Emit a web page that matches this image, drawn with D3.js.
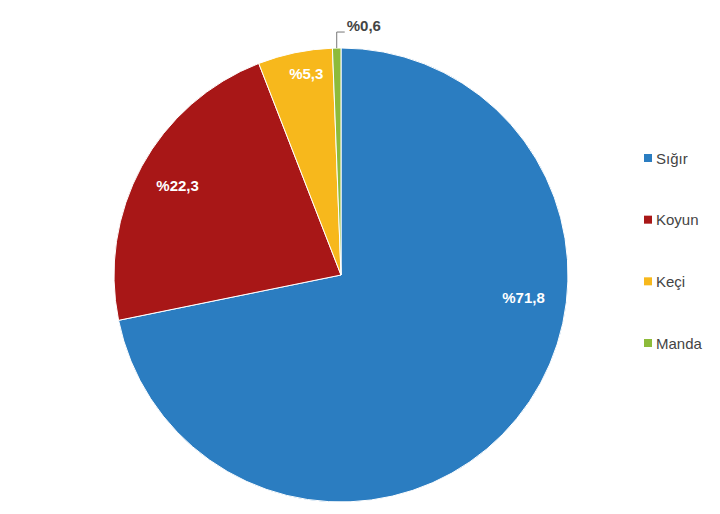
<!DOCTYPE html>
<html><head><meta charset="utf-8">
<script src="https://cdn.jsdelivr.net/npm/d3@7"></script>
<style>body{margin:0;background:#fff}svg{display:block}</style>
</head><body>
<svg id="c" width="720" height="514"></svg>
<script>
const categories = ["Sığır", "Koyun", "Keçi", "Manda"];
const values = [71.8, 22.3, 5.3, 0.6];
const labels = ["%71,8", "%22,3", "%5,3", "%0,6"];
const colors = ["#2b7dc1", "#a81717", "#f7b81c", "#8dbb3a"];

const svg = d3.select("#c");
const cx = 341, cy = 275, r = 227;
const g = svg.append("g").attr("transform", `translate(${cx},${cy})`);
const pie = d3.pie().sort(null).value(d => d)(values);
const arc = d3.arc().innerRadius(0).outerRadius(r);
g.selectAll("path").data(pie).join("path")
  .attr("d", arc).attr("fill", (d, i) => colors[i])
  .attr("stroke", "#fff").attr("stroke-width", 1);

// label placement: fraction along arc angle, fraction of radius
const labelAngFrac = [0.375, 0.5, 0.6, null];
const labelRadFrac = [0.81, 0.82, 0.9, null];
pie.forEach((d, i) => {
  if (labelAngFrac[i] === null) return;
  const a = d.startAngle + (d.endAngle - d.startAngle) * labelAngFrac[i];
  const rr = r * labelRadFrac[i];
  g.append("text").attr("x", rr * Math.sin(a)).attr("y", -rr * Math.cos(a))
    .attr("text-anchor", "middle").attr("dominant-baseline", "central")
    .attr("font-family", "Liberation Sans, Arial, sans-serif")
    .attr("font-weight", "bold").attr("font-size", 15).attr("fill", "#fff")
    .text(labels[i]);
});
// outside label for smallest slice
{
  const d = pie[3];
  const a = (d.startAngle + d.endAngle) / 2;
  const x0 = r * Math.sin(a), y0 = -r * Math.cos(a);
  const y1 = y0 - 16;
  g.append("path")
    .attr("d", `M${x0},${y0}L${x0},${y1}L${x0 + 8},${y1}`)
    .attr("fill", "none").attr("stroke", "#777").attr("stroke-width", 1);
  g.append("text").attr("x", x0 + 10).attr("y", y1 - 7)
    .attr("dominant-baseline", "central")
    .attr("font-family", "Liberation Sans, Arial, sans-serif")
    .attr("font-weight", "bold").attr("font-size", 15).attr("fill", "#444")
    .text(labels[3]);
}

// legend
const ly = d3.scalePoint().domain(categories).range([158, 343]);
const lg = svg.append("g");
categories.forEach((c, i) => {
  lg.append("rect").attr("x", 644).attr("y", ly(c) - 4).attr("width", 8).attr("height", 8)
    .attr("fill", colors[i]);
  lg.append("text").attr("x", 656).attr("y", ly(c)).attr("dominant-baseline", "central")
    .attr("font-family", "Liberation Sans, Arial, sans-serif")
    .attr("font-size", 15).attr("fill", "#444").text(c);
});
</script>
</body></html>
